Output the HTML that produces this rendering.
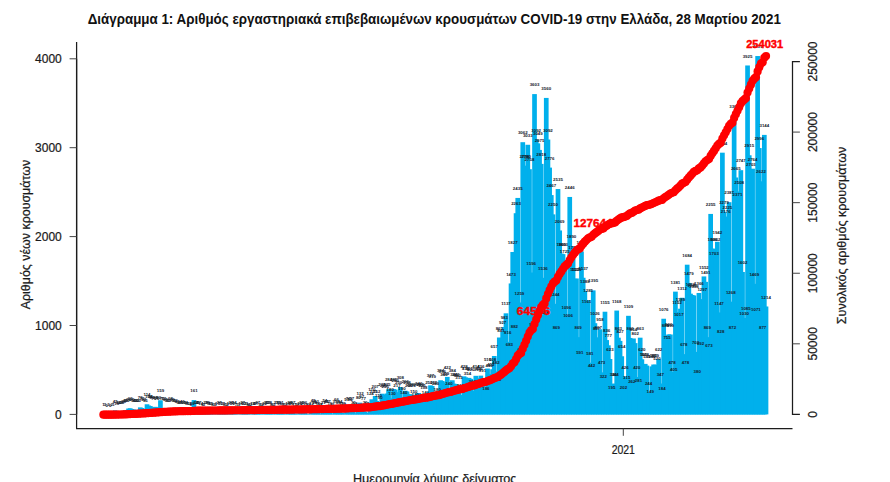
<!DOCTYPE html>
<html lang="el"><head><meta charset="utf-8"><title>COVID-19</title>
<style>
html,body{margin:0;padding:0;background:#fff;}
body{width:890px;height:482px;overflow:hidden;font-family:"Liberation Sans",sans-serif;}
svg{display:block;font-family:"Liberation Sans",sans-serif;}
.b rect{fill:#00b0ec;}
.l text{font-size:4.4px;font-weight:bold;fill:#15202b;text-anchor:middle;}
.r circle{fill:#ff0000;}
.ax{stroke:#1c1c1c;stroke-width:1.25;fill:none;}
.tk{stroke:#444;stroke-width:1;fill:none;}
.t{font-size:12px;fill:#1a1a1a;stroke:#1a1a1a;stroke-width:0.22;}
.rl{font-size:10.8px;font-weight:bold;fill:#ff0000;stroke:#ff0000;stroke-width:0.4;text-anchor:middle;}
</style></head><body>
<svg width="890" height="482" viewBox="0 0 890 482">
<rect x="0" y="0" width="890" height="482" fill="#ffffff"/>
<text x="87.7" y="23.8" font-size="14.5" font-weight="bold" fill="#111" textLength="693.2" lengthAdjust="spacingAndGlyphs">Διάγραμμα 1: Αριθμός εργαστηριακά επιβεβαιωμένων κρουσμάτων COVID-19 στην Ελλάδα, 28 Μαρτίου 2021</text>
<g class="b">
<rect x="101.06" y="414.31" width="4.69" height="0.09"/><rect x="102.73" y="414.13" width="4.69" height="0.27"/><rect x="106.09" y="414.13" width="4.69" height="0.27"/><rect x="109.44" y="414.22" width="4.69" height="0.18"/><rect x="111.12" y="414.31" width="4.69" height="0.09"/><rect x="112.8" y="410.4" width="4.69" height="4"/><rect x="114.48" y="412.8" width="4.69" height="1.6"/><rect x="116.15" y="412.27" width="4.69" height="2.13"/><rect x="117.83" y="411.47" width="4.69" height="2.93"/><rect x="119.51" y="411.91" width="4.69" height="2.49"/><rect x="121.19" y="411.02" width="4.69" height="3.38"/><rect x="122.86" y="410.31" width="4.69" height="4.09"/><rect x="124.54" y="409.95" width="4.69" height="4.45"/><rect x="126.22" y="408.53" width="4.69" height="5.87"/><rect x="127.9" y="408.27" width="4.69" height="6.13"/><rect x="129.57" y="409.07" width="4.69" height="5.33"/><rect x="131.25" y="409.51" width="4.69" height="4.89"/><rect x="132.93" y="410.13" width="4.69" height="4.27"/><rect x="134.6" y="409.78" width="4.69" height="4.62"/><rect x="136.28" y="409.95" width="4.69" height="4.45"/><rect x="137.96" y="407.38" width="4.69" height="7.02"/><rect x="139.64" y="408" width="4.69" height="6.4"/><rect x="141.31" y="408.89" width="4.69" height="5.51"/><rect x="142.99" y="409.51" width="4.69" height="4.89"/><rect x="144.67" y="404.27" width="4.69" height="10.13"/><rect x="146.35" y="405.51" width="4.69" height="8.89"/><rect x="148.03" y="406.04" width="4.69" height="8.36"/><rect x="149.7" y="407.29" width="4.69" height="7.11"/><rect x="151.38" y="407.73" width="4.69" height="6.67"/><rect x="153.06" y="406.84" width="4.69" height="7.56"/><rect x="154.74" y="408.18" width="4.69" height="6.22"/><rect x="156.41" y="407.29" width="4.69" height="7.11"/><rect x="158.09" y="400.26" width="4.69" height="14.14"/><rect x="159.77" y="408.18" width="4.69" height="6.22"/><rect x="161.45" y="408" width="4.69" height="6.4"/><rect x="163.12" y="408.62" width="4.69" height="5.78"/><rect x="164.8" y="409.51" width="4.69" height="4.89"/><rect x="166.48" y="409.95" width="4.69" height="4.45"/><rect x="168.16" y="408.35" width="4.69" height="6.05"/><rect x="169.83" y="409.07" width="4.69" height="5.33"/><rect x="171.51" y="409.51" width="4.69" height="4.89"/><rect x="173.19" y="409.95" width="4.69" height="4.45"/><rect x="174.87" y="410.67" width="4.69" height="3.73"/><rect x="176.54" y="411.73" width="4.69" height="2.67"/><rect x="178.22" y="412.18" width="4.69" height="2.22"/><rect x="179.9" y="410.84" width="4.69" height="3.56"/><rect x="181.58" y="412.18" width="4.69" height="2.22"/><rect x="183.25" y="412.27" width="4.69" height="2.13"/><rect x="184.93" y="413.07" width="4.69" height="1.33"/><rect x="186.61" y="413.24" width="4.69" height="1.16"/><rect x="188.28" y="413.6" width="4.69" height="0.8"/><rect x="189.96" y="412.62" width="4.69" height="1.78"/><rect x="191.64" y="400.09" width="4.69" height="14.31"/><rect x="193.32" y="412.27" width="4.69" height="2.13"/><rect x="195" y="412.18" width="4.69" height="2.22"/><rect x="196.67" y="412" width="4.69" height="2.4"/><rect x="198.35" y="413.16" width="4.69" height="1.24"/><rect x="200.03" y="413.87" width="4.69" height="0.53"/><rect x="201.71" y="414.13" width="4.69" height="0.27"/><rect x="203.38" y="411.91" width="4.69" height="2.49"/><rect x="205.06" y="411.82" width="4.69" height="2.58"/><rect x="206.74" y="412.98" width="4.69" height="1.42"/><rect x="208.41" y="413.07" width="4.69" height="1.33"/><rect x="210.09" y="413.69" width="4.69" height="0.71"/><rect x="211.77" y="414.13" width="4.69" height="0.27"/><rect x="213.45" y="414.31" width="4.69" height="0.09"/><rect x="215.12" y="412.89" width="4.69" height="1.51"/><rect x="216.8" y="412" width="4.69" height="2.4"/><rect x="218.48" y="413.24" width="4.69" height="1.16"/><rect x="220.16" y="412.89" width="4.69" height="1.51"/><rect x="221.84" y="413.69" width="4.69" height="0.71"/><rect x="223.51" y="413.96" width="4.69" height="0.44"/><rect x="225.19" y="414.22" width="4.69" height="0.18"/><rect x="226.87" y="412.89" width="4.69" height="1.51"/><rect x="228.54" y="411.82" width="4.69" height="2.58"/><rect x="230.22" y="413.33" width="4.69" height="1.07"/><rect x="231.9" y="412.27" width="4.69" height="2.13"/><rect x="233.58" y="413.78" width="4.69" height="0.62"/><rect x="235.25" y="414.13" width="4.69" height="0.27"/><rect x="236.93" y="414.31" width="4.69" height="0.09"/><rect x="238.61" y="412.98" width="4.69" height="1.42"/><rect x="240.29" y="412" width="4.69" height="2.4"/><rect x="241.97" y="413.24" width="4.69" height="1.16"/><rect x="243.64" y="412.53" width="4.69" height="1.87"/><rect x="245.32" y="413.69" width="4.69" height="0.71"/><rect x="247" y="414.04" width="4.69" height="0.36"/><rect x="248.68" y="414.22" width="4.69" height="0.18"/><rect x="250.35" y="413.16" width="4.69" height="1.24"/><rect x="252.03" y="412.89" width="4.69" height="1.51"/><rect x="253.71" y="412.89" width="4.69" height="1.51"/><rect x="255.39" y="412" width="4.69" height="2.4"/><rect x="257.06" y="413.6" width="4.69" height="0.8"/><rect x="258.74" y="413.96" width="4.69" height="0.44"/><rect x="260.42" y="414.22" width="4.69" height="0.18"/><rect x="262.09" y="412.44" width="4.69" height="1.96"/><rect x="263.77" y="412.18" width="4.69" height="2.22"/><rect x="265.45" y="412.36" width="4.69" height="2.04"/><rect x="267.13" y="411.91" width="4.69" height="2.49"/><rect x="268.8" y="413.69" width="4.69" height="0.71"/><rect x="270.48" y="413.87" width="4.69" height="0.53"/><rect x="272.16" y="414.22" width="4.69" height="0.18"/><rect x="273.84" y="412" width="4.69" height="2.4"/><rect x="275.51" y="411.56" width="4.69" height="2.84"/><rect x="277.19" y="412.8" width="4.69" height="1.6"/><rect x="278.87" y="411.64" width="4.69" height="2.76"/><rect x="280.55" y="413.69" width="4.69" height="0.71"/><rect x="282.22" y="413.96" width="4.69" height="0.44"/><rect x="283.9" y="414.22" width="4.69" height="0.18"/><rect x="285.58" y="412.8" width="4.69" height="1.6"/><rect x="287.26" y="411.91" width="4.69" height="2.49"/><rect x="288.93" y="413.07" width="4.69" height="1.33"/><rect x="290.61" y="412" width="4.69" height="2.4"/><rect x="292.29" y="413.42" width="4.69" height="0.98"/><rect x="293.97" y="413.96" width="4.69" height="0.44"/><rect x="295.64" y="414.22" width="4.69" height="0.18"/><rect x="297.32" y="412.62" width="4.69" height="1.78"/><rect x="299" y="411.64" width="4.69" height="2.76"/><rect x="300.68" y="412.53" width="4.69" height="1.87"/><rect x="302.36" y="412.09" width="4.69" height="2.31"/><rect x="304.03" y="413.6" width="4.69" height="0.8"/><rect x="305.71" y="413.87" width="4.69" height="0.53"/><rect x="307.39" y="414.22" width="4.69" height="0.18"/><rect x="309.06" y="412.44" width="4.69" height="1.96"/><rect x="310.74" y="410.13" width="4.69" height="4.27"/><rect x="312.42" y="412.27" width="4.69" height="2.13"/><rect x="314.1" y="410.58" width="4.69" height="3.82"/><rect x="315.77" y="412.98" width="4.69" height="1.42"/><rect x="317.45" y="413.42" width="4.69" height="0.98"/><rect x="319.13" y="414.04" width="4.69" height="0.36"/><rect x="320.81" y="411.64" width="4.69" height="2.76"/><rect x="322.49" y="409.6" width="4.69" height="4.8"/><rect x="324.16" y="410.4" width="4.69" height="4"/><rect x="325.84" y="411.11" width="4.69" height="3.29"/><rect x="327.52" y="412.71" width="4.69" height="1.69"/><rect x="329.19" y="413.6" width="4.69" height="0.8"/><rect x="330.87" y="414.13" width="4.69" height="0.27"/><rect x="332.55" y="411.29" width="4.69" height="3.11"/><rect x="334.23" y="408.53" width="4.69" height="5.87"/><rect x="335.9" y="411.47" width="4.69" height="2.93"/><rect x="337.58" y="410.49" width="4.69" height="3.91"/><rect x="339.26" y="412.71" width="4.69" height="1.69"/><rect x="340.94" y="413.24" width="4.69" height="1.16"/><rect x="342.62" y="414.13" width="4.69" height="0.27"/><rect x="344.29" y="409.33" width="4.69" height="5.07"/><rect x="345.97" y="407.64" width="4.69" height="6.76"/><rect x="347.65" y="408.71" width="4.69" height="5.69"/><rect x="349.32" y="407.55" width="4.69" height="6.85"/><rect x="351" y="411.73" width="4.69" height="2.67"/><rect x="352.68" y="413.33" width="4.69" height="1.07"/><rect x="354.36" y="413.96" width="4.69" height="0.44"/><rect x="356.03" y="407.29" width="4.69" height="7.11"/><rect x="357.71" y="402.67" width="4.69" height="11.73"/><rect x="359.39" y="405.78" width="4.69" height="8.62"/><rect x="361.07" y="407.55" width="4.69" height="6.85"/><rect x="362.75" y="411.73" width="4.69" height="2.67"/><rect x="364.42" y="412.89" width="4.69" height="1.51"/><rect x="366.1" y="413.87" width="4.69" height="0.53"/><rect x="367.78" y="403.38" width="4.69" height="11.02"/><rect x="369.45" y="399.29" width="4.69" height="15.11"/><rect x="371.13" y="400.98" width="4.69" height="13.42"/><rect x="372.81" y="396" width="4.69" height="18.4"/><rect x="374.49" y="400.89" width="4.69" height="13.51"/><rect x="376.16" y="404.62" width="4.69" height="9.78"/><rect x="377.84" y="406.4" width="4.69" height="8"/><rect x="379.52" y="393.69" width="4.69" height="20.71"/><rect x="381.2" y="394.4" width="4.69" height="20"/><rect x="382.88" y="396.18" width="4.69" height="18.22"/><rect x="384.55" y="393.51" width="4.69" height="20.89"/><rect x="386.23" y="389.15" width="4.69" height="25.25"/><rect x="387.91" y="398.4" width="4.69" height="16"/><rect x="389.58" y="402.84" width="4.69" height="11.56"/><rect x="391.26" y="389.06" width="4.69" height="25.34"/><rect x="392.94" y="389.51" width="4.69" height="24.89"/><rect x="394.62" y="395.11" width="4.69" height="19.29"/><rect x="396.29" y="392.17" width="4.69" height="22.23"/><rect x="397.97" y="387.02" width="4.69" height="27.38"/><rect x="399.65" y="397.51" width="4.69" height="16.89"/><rect x="401.33" y="401.95" width="4.69" height="12.45"/><rect x="403" y="390.75" width="4.69" height="23.65"/><rect x="404.68" y="391.46" width="4.69" height="22.94"/><rect x="406.36" y="394.84" width="4.69" height="19.56"/><rect x="408.04" y="394.13" width="4.69" height="20.27"/><rect x="409.72" y="395.29" width="4.69" height="19.11"/><rect x="411.39" y="401.06" width="4.69" height="13.34"/><rect x="413.07" y="403.73" width="4.69" height="10.67"/><rect x="414.75" y="393.69" width="4.69" height="20.71"/><rect x="416.42" y="393.06" width="4.69" height="21.34"/><rect x="418.1" y="393.95" width="4.69" height="20.45"/><rect x="419.78" y="394.4" width="4.69" height="20"/><rect x="421.46" y="396.8" width="4.69" height="17.6"/><rect x="423.13" y="401.95" width="4.69" height="12.45"/><rect x="424.81" y="404.62" width="4.69" height="9.78"/><rect x="426.49" y="392.17" width="4.69" height="22.23"/><rect x="428.17" y="385.33" width="4.69" height="29.07"/><rect x="429.85" y="386.04" width="4.69" height="28.36"/><rect x="431.52" y="391.73" width="4.69" height="22.67"/><rect x="433.2" y="393.06" width="4.69" height="21.34"/><rect x="434.88" y="398.4" width="4.69" height="16"/><rect x="436.55" y="401.87" width="4.69" height="12.53"/><rect x="438.23" y="380.26" width="4.69" height="34.14"/><rect x="439.91" y="380.97" width="4.69" height="33.43"/><rect x="441.59" y="384.17" width="4.69" height="30.23"/><rect x="443.26" y="382.48" width="4.69" height="31.92"/><rect x="444.94" y="376.88" width="4.69" height="37.52"/><rect x="446.62" y="393.06" width="4.69" height="21.34"/><rect x="448.3" y="399.29" width="4.69" height="15.11"/><rect x="449.98" y="380.26" width="4.69" height="34.14"/><rect x="451.65" y="383.64" width="4.69" height="30.76"/><rect x="453.33" y="384" width="4.69" height="30.4"/><rect x="455.01" y="385.06" width="4.69" height="29.34"/><rect x="456.68" y="386.4" width="4.69" height="28"/><rect x="458.36" y="395.02" width="4.69" height="19.38"/><rect x="460.04" y="400.18" width="4.69" height="14.22"/><rect x="461.72" y="376.35" width="4.69" height="38.05"/><rect x="463.39" y="377.42" width="4.69" height="36.98"/><rect x="465.07" y="382.93" width="4.69" height="31.47"/><rect x="466.75" y="377.86" width="4.69" height="36.54"/><rect x="468.43" y="378.84" width="4.69" height="35.56"/><rect x="470.11" y="390.66" width="4.69" height="23.74"/><rect x="471.78" y="394.04" width="4.69" height="20.36"/><rect x="473.46" y="375.82" width="4.69" height="38.58"/><rect x="475.14" y="378.93" width="4.69" height="35.47"/><rect x="476.81" y="378.31" width="4.69" height="36.09"/><rect x="478.49" y="375.64" width="4.69" height="38.76"/><rect x="480.17" y="379.64" width="4.69" height="34.76"/><rect x="481.85" y="389.51" width="4.69" height="24.89"/><rect x="483.52" y="397.86" width="4.69" height="16.54"/><rect x="485.2" y="368.53" width="4.69" height="45.87"/><rect x="486.88" y="375.28" width="4.69" height="39.12"/><rect x="488.56" y="374.13" width="4.69" height="40.27"/><rect x="490.24" y="369.24" width="4.69" height="45.16"/><rect x="491.91" y="355.99" width="4.69" height="58.41"/><rect x="493.59" y="371.55" width="4.69" height="42.85"/><rect x="495.27" y="388.62" width="4.69" height="25.78"/><rect x="496.94" y="337.5" width="4.69" height="76.9"/><rect x="498.62" y="339.64" width="4.69" height="74.76"/><rect x="500.3" y="331.99" width="4.69" height="82.41"/><rect x="501.98" y="327.01" width="4.69" height="87.39"/><rect x="503.65" y="313.32" width="4.69" height="101.08"/><rect x="505.33" y="341.86" width="4.69" height="72.54"/><rect x="507.01" y="353.68" width="4.69" height="60.72"/><rect x="508.69" y="283.45" width="4.69" height="130.95"/><rect x="510.37" y="251.98" width="4.69" height="162.42"/><rect x="512.04" y="335.99" width="4.69" height="78.41"/><rect x="513.72" y="213.22" width="4.69" height="201.18"/><rect x="515.4" y="197.93" width="4.69" height="216.47"/><rect x="517.07" y="302.47" width="4.69" height="111.93"/><rect x="518.75" y="359.28" width="4.69" height="55.12"/><rect x="520.43" y="142.19" width="4.69" height="272.21"/><rect x="522.11" y="165.66" width="4.69" height="248.74"/><rect x="523.78" y="166.37" width="4.69" height="248.03"/><rect x="525.46" y="144.77" width="4.69" height="269.63"/><rect x="527.14" y="169.21" width="4.69" height="245.19"/><rect x="528.82" y="272.52" width="4.69" height="141.88"/><rect x="530.5" y="334.39" width="4.69" height="80.01"/><rect x="532.17" y="94.09" width="4.69" height="320.31"/><rect x="533.85" y="139.52" width="4.69" height="274.88"/><rect x="535.53" y="143.34" width="4.69" height="271.06"/><rect x="537.2" y="149.92" width="4.69" height="264.48"/><rect x="538.88" y="163.88" width="4.69" height="250.52"/><rect x="540.56" y="277.85" width="4.69" height="136.55"/><rect x="542.24" y="321.94" width="4.69" height="92.46"/><rect x="543.91" y="97.92" width="4.69" height="316.48"/><rect x="545.59" y="139.52" width="4.69" height="274.88"/><rect x="547.27" y="167.61" width="4.69" height="246.79"/><rect x="548.95" y="195.08" width="4.69" height="219.32"/><rect x="550.62" y="214.37" width="4.69" height="200.03"/><rect x="552.3" y="303.81" width="4.69" height="110.59"/><rect x="553.98" y="337.15" width="4.69" height="77.25"/><rect x="555.66" y="189.04" width="4.69" height="225.36"/><rect x="557.33" y="230.47" width="4.69" height="183.93"/><rect x="559.01" y="253.58" width="4.69" height="160.82"/><rect x="560.69" y="254.11" width="4.69" height="160.29"/><rect x="562.37" y="261.05" width="4.69" height="153.35"/><rect x="564.04" y="316.97" width="4.69" height="97.43"/><rect x="565.72" y="324.97" width="4.69" height="89.43"/><rect x="567.4" y="196.95" width="4.69" height="217.45"/><rect x="569.08" y="246.38" width="4.69" height="168.02"/><rect x="570.75" y="256.87" width="4.69" height="157.53"/><rect x="572.43" y="278.83" width="4.69" height="135.57"/><rect x="574.11" y="278.47" width="4.69" height="135.93"/><rect x="575.79" y="337.15" width="4.69" height="77.25"/><rect x="577.47" y="361.86" width="4.69" height="52.54"/><rect x="579.14" y="251.45" width="4.69" height="162.95"/><rect x="580.82" y="277.76" width="4.69" height="136.64"/><rect x="582.5" y="291.01" width="4.69" height="123.39"/><rect x="584.17" y="311.19" width="4.69" height="103.21"/><rect x="585.85" y="300.16" width="4.69" height="114.24"/><rect x="587.53" y="362.75" width="4.69" height="51.65"/><rect x="589.21" y="375.11" width="4.69" height="39.29"/><rect x="590.88" y="290.38" width="4.69" height="124.02"/><rect x="592.56" y="323.19" width="4.69" height="91.21"/><rect x="594.24" y="338.21" width="4.69" height="76.19"/><rect x="595.92" y="337.32" width="4.69" height="77.08"/><rect x="597.6" y="329.23" width="4.69" height="85.17"/><rect x="599.27" y="372.35" width="4.69" height="42.05"/><rect x="600.95" y="385.77" width="4.69" height="28.63"/><rect x="602.63" y="311.72" width="4.69" height="102.68"/><rect x="604.3" y="340.08" width="4.69" height="74.32"/><rect x="605.98" y="345.32" width="4.69" height="69.08"/><rect x="607.66" y="359.02" width="4.69" height="55.38"/><rect x="609.34" y="397.06" width="4.69" height="17.34"/><rect x="611.01" y="383.64" width="4.69" height="30.76"/><rect x="612.69" y="383.82" width="4.69" height="30.58"/><rect x="614.37" y="310.56" width="4.69" height="103.84"/><rect x="616.05" y="337.68" width="4.69" height="76.72"/><rect x="617.72" y="340.88" width="4.69" height="73.52"/><rect x="619.4" y="356.26" width="4.69" height="58.14"/><rect x="621.08" y="396.44" width="4.69" height="17.96"/><rect x="622.76" y="376.53" width="4.69" height="37.87"/><rect x="624.43" y="386.4" width="4.69" height="28"/><rect x="626.11" y="315.81" width="4.69" height="98.59"/><rect x="627.79" y="337.95" width="4.69" height="76.45"/><rect x="629.47" y="391.11" width="4.69" height="23.29"/><rect x="631.14" y="338.48" width="4.69" height="75.92"/><rect x="632.82" y="343.1" width="4.69" height="71.3"/><rect x="634.5" y="377.06" width="4.69" height="37.34"/><rect x="636.18" y="389.42" width="4.69" height="24.98"/><rect x="637.85" y="337.68" width="4.69" height="76.72"/><rect x="639.53" y="359.28" width="4.69" height="55.12"/><rect x="641.21" y="364.17" width="4.69" height="50.23"/><rect x="642.89" y="363.9" width="4.69" height="50.5"/><rect x="644.56" y="365.59" width="4.69" height="48.81"/><rect x="646.24" y="392.71" width="4.69" height="21.69"/><rect x="647.92" y="401.15" width="4.69" height="13.25"/><rect x="649.6" y="366.39" width="4.69" height="48.01"/><rect x="651.27" y="364.53" width="4.69" height="49.87"/><rect x="652.95" y="364.7" width="4.69" height="49.7"/><rect x="654.63" y="368.17" width="4.69" height="46.23"/><rect x="656.31" y="359.1" width="4.69" height="55.3"/><rect x="657.98" y="383.55" width="4.69" height="30.85"/><rect x="659.66" y="398.04" width="4.69" height="16.36"/><rect x="661.34" y="318.74" width="4.69" height="95.66"/><rect x="663.02" y="335.37" width="4.69" height="79.03"/><rect x="664.69" y="347.28" width="4.69" height="67.12"/><rect x="666.37" y="334.39" width="4.69" height="80.01"/><rect x="668.05" y="334.48" width="4.69" height="79.92"/><rect x="669.73" y="371.91" width="4.69" height="42.49"/><rect x="671.4" y="378.4" width="4.69" height="36"/><rect x="673.08" y="291.63" width="4.69" height="122.77"/><rect x="674.76" y="311.99" width="4.69" height="102.41"/><rect x="676.44" y="323.99" width="4.69" height="90.41"/><rect x="678.11" y="308.7" width="4.69" height="105.7"/><rect x="679.79" y="297.76" width="4.69" height="116.64"/><rect x="681.47" y="354.13" width="4.69" height="60.27"/><rect x="683.15" y="371.91" width="4.69" height="42.49"/><rect x="684.82" y="264.69" width="4.69" height="149.71"/><rect x="686.5" y="282.92" width="4.69" height="131.48"/><rect x="688.18" y="293.67" width="4.69" height="120.73"/><rect x="689.86" y="295.01" width="4.69" height="119.39"/><rect x="691.53" y="295.45" width="4.69" height="118.95"/><rect x="693.21" y="351.9" width="4.69" height="62.5"/><rect x="694.89" y="380.62" width="4.69" height="33.78"/><rect x="696.57" y="292.96" width="4.69" height="121.44"/><rect x="698.24" y="352.88" width="4.69" height="61.52"/><rect x="699.92" y="299.1" width="4.69" height="115.3"/><rect x="701.6" y="276.43" width="4.69" height="137.97"/><rect x="703.28" y="281.85" width="4.69" height="132.55"/><rect x="704.95" y="337.15" width="4.69" height="77.25"/><rect x="706.63" y="354.57" width="4.69" height="59.83"/><rect x="708.31" y="213.93" width="4.69" height="200.47"/><rect x="709.99" y="248.51" width="4.69" height="165.89"/><rect x="711.66" y="263" width="4.69" height="151.4"/><rect x="713.34" y="248.87" width="4.69" height="165.53"/><rect x="715.02" y="241.76" width="4.69" height="172.64"/><rect x="716.7" y="312.43" width="4.69" height="101.97"/><rect x="718.38" y="340.79" width="4.69" height="73.61"/><rect x="720.05" y="152.68" width="4.69" height="261.72"/><rect x="721.73" y="211.8" width="4.69" height="202.6"/><rect x="723.41" y="220.95" width="4.69" height="193.45"/><rect x="725.08" y="216.6" width="4.69" height="197.8"/><rect x="726.76" y="202.2" width="4.69" height="212.2"/><rect x="728.44" y="301.67" width="4.69" height="112.73"/><rect x="730.12" y="336.88" width="4.69" height="77.52"/><rect x="731.79" y="115.7" width="4.69" height="298.7"/><rect x="733.47" y="177.48" width="4.69" height="236.92"/><rect x="735.15" y="203.62" width="4.69" height="210.78"/><rect x="736.83" y="191.44" width="4.69" height="222.96"/><rect x="738.5" y="170.19" width="4.69" height="244.21"/><rect x="740.18" y="271.98" width="4.69" height="142.42"/><rect x="741.86" y="322.83" width="4.69" height="91.57"/><rect x="743.54" y="317.94" width="4.69" height="96.46"/><rect x="745.21" y="65.47" width="4.69" height="348.93"/><rect x="746.89" y="155.26" width="4.69" height="259.14"/><rect x="748.57" y="174.1" width="4.69" height="240.3"/><rect x="750.25" y="168.68" width="4.69" height="245.72"/><rect x="751.92" y="283.81" width="4.69" height="130.59"/><rect x="753.6" y="319.19" width="4.69" height="95.21"/><rect x="755.28" y="56.04" width="4.69" height="358.36"/><rect x="756.96" y="148.06" width="4.69" height="266.34"/><rect x="758.63" y="181.3" width="4.69" height="233.1"/><rect x="760.31" y="336.43" width="4.69" height="77.97"/><rect x="761.99" y="134.9" width="4.69" height="279.5"/><rect x="763.67" y="306.48" width="4.69" height="107.92"/>
</g>
<g class="l">
<text x="103.4" y="406.41">1</text><text x="105.08" y="406.23">3</text><text x="106.76" y="406.5">0</text><text x="108.43" y="406.23">3</text><text x="110.11" y="406.5">0</text><text x="111.79" y="406.32">2</text><text x="113.47" y="406.41">1</text><text x="115.14" y="402.5">45</text><text x="116.82" y="404.9">18</text><text x="118.5" y="404.37">24</text><text x="120.18" y="403.57">33</text><text x="121.85" y="404.01">28</text><text x="123.53" y="403.12">38</text><text x="125.21" y="402.41">46</text><text x="126.89" y="402.06">50</text><text x="128.56" y="400.63">66</text><text x="130.24" y="400.37">69</text><text x="131.92" y="401.17">60</text><text x="133.59" y="401.61">55</text><text x="135.27" y="402.23">48</text><text x="136.95" y="401.88">52</text><text x="138.63" y="402.06">50</text><text x="140.31" y="399.48">79</text><text x="141.98" y="400.1">72</text><text x="143.66" y="400.99">62</text><text x="145.34" y="401.61">55</text><text x="147.02" y="396.37">114</text><text x="148.69" y="397.61">100</text><text x="150.37" y="398.14">94</text><text x="152.05" y="399.39">80</text><text x="153.73" y="399.83">75</text><text x="155.4" y="398.94">85</text><text x="157.08" y="400.28">70</text><text x="158.76" y="399.39">80</text><text x="160.44" y="392.36">159</text><text x="162.11" y="400.28">70</text><text x="163.79" y="400.1">72</text><text x="165.47" y="400.72">65</text><text x="167.15" y="401.61">55</text><text x="168.82" y="402.06">50</text><text x="170.5" y="400.45">68</text><text x="172.18" y="401.17">60</text><text x="173.86" y="401.61">55</text><text x="175.53" y="402.06">50</text><text x="177.21" y="402.77">42</text><text x="178.89" y="403.83">30</text><text x="180.56" y="404.28">25</text><text x="182.24" y="402.94">40</text><text x="183.92" y="404.28">25</text><text x="185.6" y="404.37">24</text><text x="187.28" y="405.17">15</text><text x="188.95" y="405.34">13</text><text x="190.63" y="405.7">9</text><text x="192.31" y="404.72">20</text><text x="193.99" y="392.19">161</text><text x="195.66" y="404.37">24</text><text x="197.34" y="404.28">25</text><text x="199.02" y="404.1">27</text><text x="200.69" y="405.26">14</text><text x="202.37" y="405.97">6</text><text x="204.05" y="406.23">3</text><text x="205.73" y="404.01">28</text><text x="207.41" y="403.92">29</text><text x="209.08" y="405.08">16</text><text x="210.76" y="405.17">15</text><text x="212.44" y="405.79">8</text><text x="214.12" y="406.23">3</text><text x="215.79" y="406.41">1</text><text x="217.47" y="404.99">17</text><text x="219.15" y="404.1">27</text><text x="220.82" y="405.34">13</text><text x="222.5" y="404.99">17</text><text x="224.18" y="405.79">8</text><text x="225.86" y="406.06">5</text><text x="227.54" y="406.32">2</text><text x="229.21" y="404.99">17</text><text x="230.89" y="403.92">29</text><text x="232.57" y="405.43">12</text><text x="234.25" y="404.37">24</text><text x="235.92" y="405.88">7</text><text x="237.6" y="406.23">3</text><text x="239.28" y="406.41">1</text><text x="240.96" y="405.08">16</text><text x="242.63" y="404.1">27</text><text x="244.31" y="405.34">13</text><text x="245.99" y="404.63">21</text><text x="247.66" y="405.79">8</text><text x="249.34" y="406.14">4</text><text x="251.02" y="406.32">2</text><text x="252.7" y="405.26">14</text><text x="254.38" y="404.99">17</text><text x="256.05" y="404.99">17</text><text x="257.73" y="404.1">27</text><text x="259.41" y="405.7">9</text><text x="261.09" y="406.06">5</text><text x="262.76" y="406.32">2</text><text x="264.44" y="404.54">22</text><text x="266.12" y="404.28">25</text><text x="267.8" y="404.46">23</text><text x="269.47" y="404.01">28</text><text x="271.15" y="405.79">8</text><text x="272.83" y="405.97">6</text><text x="274.5" y="406.32">2</text><text x="276.18" y="404.1">27</text><text x="277.86" y="403.66">32</text><text x="279.54" y="404.9">18</text><text x="281.22" y="403.74">31</text><text x="282.89" y="405.79">8</text><text x="284.57" y="406.06">5</text><text x="286.25" y="406.32">2</text><text x="287.93" y="404.9">18</text><text x="289.6" y="404.01">28</text><text x="291.28" y="405.17">15</text><text x="292.96" y="404.1">27</text><text x="294.63" y="405.52">11</text><text x="296.31" y="406.06">5</text><text x="297.99" y="406.32">2</text><text x="299.67" y="404.72">20</text><text x="301.35" y="403.74">31</text><text x="303.02" y="404.63">21</text><text x="304.7" y="404.19">26</text><text x="306.38" y="405.7">9</text><text x="308.06" y="405.97">6</text><text x="309.73" y="406.32">2</text><text x="311.41" y="404.54">22</text><text x="313.09" y="402.23">48</text><text x="314.76" y="404.37">24</text><text x="316.44" y="402.68">43</text><text x="318.12" y="405.08">16</text><text x="319.8" y="405.52">11</text><text x="321.48" y="406.14">4</text><text x="323.15" y="403.74">31</text><text x="324.83" y="401.7">54</text><text x="326.51" y="402.5">45</text><text x="328.19" y="403.21">37</text><text x="329.86" y="404.81">19</text><text x="331.54" y="405.7">9</text><text x="333.22" y="406.23">3</text><text x="334.89" y="403.39">35</text><text x="336.57" y="400.63">66</text><text x="338.25" y="403.57">33</text><text x="339.93" y="402.59">44</text><text x="341.61" y="404.81">19</text><text x="343.28" y="405.34">13</text><text x="344.96" y="406.23">3</text><text x="346.64" y="401.43">57</text><text x="348.31" y="399.74">76</text><text x="349.99" y="400.81">64</text><text x="351.67" y="399.65">77</text><text x="353.35" y="403.83">30</text><text x="355.02" y="405.43">12</text><text x="356.7" y="406.06">5</text><text x="358.38" y="399.39">80</text><text x="360.06" y="394.77">132</text><text x="361.74" y="397.88">97</text><text x="363.41" y="399.65">77</text><text x="365.09" y="403.83">30</text><text x="366.77" y="404.99">17</text><text x="368.45" y="405.97">6</text><text x="370.12" y="395.48">124</text><text x="371.8" y="391.39">170</text><text x="373.48" y="393.08">151</text><text x="375.15" y="388.1">207</text><text x="376.83" y="392.99">152</text><text x="378.51" y="396.72">110</text><text x="380.19" y="398.5">90</text><text x="381.87" y="385.79">233</text><text x="383.54" y="386.5">225</text><text x="385.22" y="388.28">205</text><text x="386.9" y="385.61">235</text><text x="388.58" y="381.25">284</text><text x="390.25" y="390.5">180</text><text x="391.93" y="394.94">130</text><text x="393.61" y="381.16">285</text><text x="395.28" y="381.61">280</text><text x="396.96" y="387.21">217</text><text x="398.64" y="384.27">250</text><text x="400.32" y="379.12">308</text><text x="402" y="389.61">190</text><text x="403.67" y="394.05">140</text><text x="405.35" y="382.85">266</text><text x="407.03" y="383.56">258</text><text x="408.71" y="386.94">220</text><text x="410.38" y="386.23">228</text><text x="412.06" y="387.39">215</text><text x="413.74" y="393.17">150</text><text x="415.41" y="395.83">120</text><text x="417.09" y="385.79">233</text><text x="418.77" y="385.16">240</text><text x="420.45" y="386.05">230</text><text x="422.12" y="386.5">225</text><text x="423.8" y="388.9">198</text><text x="425.48" y="394.05">140</text><text x="427.16" y="396.72">110</text><text x="428.84" y="384.27">250</text><text x="430.51" y="377.43">327</text><text x="432.19" y="378.14">319</text><text x="433.87" y="383.83">255</text><text x="435.54" y="385.16">240</text><text x="437.22" y="390.5">180</text><text x="438.9" y="393.97">141</text><text x="440.58" y="372.36">384</text><text x="442.25" y="373.07">376</text><text x="443.93" y="376.27">340</text><text x="445.61" y="374.58">359</text><text x="447.29" y="368.98">422</text><text x="448.97" y="385.16">240</text><text x="450.64" y="391.39">170</text><text x="452.32" y="372.36">384</text><text x="454" y="375.74">346</text><text x="455.67" y="376.1">342</text><text x="457.35" y="377.16">330</text><text x="459.03" y="378.5">315</text><text x="460.71" y="387.12">218</text><text x="462.38" y="392.28">160</text><text x="464.06" y="368.45">428</text><text x="465.74" y="369.52">416</text><text x="467.42" y="375.03">354</text><text x="469.1" y="369.96">411</text><text x="470.77" y="370.94">400</text><text x="472.45" y="382.76">267</text><text x="474.13" y="386.14">229</text><text x="475.8" y="367.92">434</text><text x="477.48" y="371.03">399</text><text x="479.16" y="370.41">406</text><text x="480.84" y="367.74">436</text><text x="482.51" y="371.74">391</text><text x="484.19" y="381.61">280</text><text x="485.87" y="389.96">186</text><text x="487.55" y="360.63">516</text><text x="489.23" y="367.38">440</text><text x="490.9" y="366.23">453</text><text x="492.58" y="361.34">508</text><text x="494.26" y="348.09">657</text><text x="495.94" y="363.65">482</text><text x="497.61" y="380.72">290</text><text x="499.29" y="329.6">865</text><text x="500.97" y="331.74">841</text><text x="502.64" y="324.09">927</text><text x="504.32" y="319.11">983</text><text x="506" y="305.42">1137</text><text x="507.68" y="333.96">816</text><text x="509.36" y="345.78">683</text><text x="511.03" y="275.55">1473</text><text x="512.71" y="244.08">1827</text><text x="514.39" y="328.09">882</text><text x="516.07" y="205.32">2263</text><text x="517.74" y="190.03">2435</text><text x="519.42" y="294.57">1259</text><text x="521.1" y="351.38">620</text><text x="522.77" y="134.29">3062</text><text x="524.45" y="157.76">2798</text><text x="526.13" y="158.47">2790</text><text x="527.81" y="136.87">3033</text><text x="529.49" y="161.31">2758</text><text x="531.16" y="264.62">1596</text><text x="532.84" y="326.49">900</text><text x="534.52" y="86.19">3603</text><text x="536.2" y="131.62">3092</text><text x="537.87" y="135.44">3049</text><text x="539.55" y="142.02">2975</text><text x="541.23" y="155.98">2818</text><text x="542.9" y="269.95">1536</text><text x="544.58" y="314.04">1040</text><text x="546.26" y="90.02">3560</text><text x="547.94" y="131.62">3092</text><text x="549.62" y="159.71">2776</text><text x="551.29" y="187.18">2467</text><text x="552.97" y="206.47">2250</text><text x="554.65" y="295.91">1244</text><text x="556.33" y="329.25">869</text><text x="558" y="181.14">2535</text><text x="559.68" y="222.57">2069</text><text x="561.36" y="245.68">1809</text><text x="563.03" y="246.21">1803</text><text x="564.71" y="253.15">1725</text><text x="566.39" y="309.07">1096</text><text x="568.07" y="317.07">1006</text><text x="569.75" y="189.05">2446</text><text x="571.42" y="238.48">1890</text><text x="573.1" y="248.97">1772</text><text x="574.78" y="270.93">1525</text><text x="576.46" y="270.57">1529</text><text x="578.13" y="329.25">869</text><text x="579.81" y="353.96">591</text><text x="581.49" y="243.55">1833</text><text x="583.16" y="269.86">1537</text><text x="584.84" y="283.11">1388</text><text x="586.52" y="303.29">1161</text><text x="588.2" y="292.26">1285</text><text x="589.88" y="354.85">581</text><text x="591.55" y="367.21">442</text><text x="593.23" y="282.48">1395</text><text x="594.91" y="315.29">1026</text><text x="596.59" y="330.31">857</text><text x="598.26" y="329.42">867</text><text x="599.94" y="321.33">958</text><text x="601.62" y="364.45">473</text><text x="603.29" y="377.87">322</text><text x="604.97" y="303.82">1155</text><text x="606.65" y="332.18">836</text><text x="608.33" y="337.42">777</text><text x="610" y="351.12">623</text><text x="611.68" y="389.16">195</text><text x="613.36" y="375.74">346</text><text x="615.04" y="375.92">344</text><text x="616.71" y="302.66">1168</text><text x="618.39" y="329.78">863</text><text x="620.07" y="332.98">827</text><text x="621.75" y="348.36">654</text><text x="623.42" y="388.54">202</text><text x="625.1" y="368.63">426</text><text x="626.78" y="378.5">315</text><text x="628.46" y="307.91">1109</text><text x="630.13" y="330.05">860</text><text x="631.81" y="383.21">262</text><text x="633.49" y="330.58">854</text><text x="635.17" y="335.2">802</text><text x="636.85" y="369.16">420</text><text x="638.52" y="381.52">281</text><text x="640.2" y="329.78">863</text><text x="641.88" y="351.38">620</text><text x="643.55" y="356.27">565</text><text x="645.23" y="356">568</text><text x="646.91" y="357.69">549</text><text x="648.59" y="384.81">244</text><text x="650.26" y="393.25">149</text><text x="651.94" y="358.49">540</text><text x="653.62" y="356.63">561</text><text x="655.3" y="356.8">559</text><text x="656.98" y="360.27">520</text><text x="658.65" y="351.2">622</text><text x="660.33" y="375.65">347</text><text x="662.01" y="390.14">184</text><text x="663.68" y="310.84">1076</text><text x="665.36" y="327.47">889</text><text x="667.04" y="339.38">755</text><text x="668.72" y="326.49">900</text><text x="670.39" y="326.58">899</text><text x="672.07" y="364.01">478</text><text x="673.75" y="370.5">405</text><text x="675.43" y="283.73">1381</text><text x="677.11" y="304.09">1152</text><text x="678.78" y="316.09">1017</text><text x="680.46" y="300.8">1189</text><text x="682.14" y="289.86">1312</text><text x="683.81" y="346.23">678</text><text x="685.49" y="364.01">478</text><text x="687.17" y="256.79">1684</text><text x="688.85" y="275.02">1479</text><text x="690.52" y="285.77">1358</text><text x="692.2" y="287.11">1343</text><text x="693.88" y="287.55">1338</text><text x="695.56" y="344">703</text><text x="697.24" y="372.72">380</text><text x="698.91" y="285.06">1366</text><text x="700.59" y="344.98">692</text><text x="702.27" y="291.2">1297</text><text x="703.94" y="268.53">1552</text><text x="705.62" y="273.95">1491</text><text x="707.3" y="329.25">869</text><text x="708.98" y="346.67">673</text><text x="710.65" y="206.03">2255</text><text x="712.33" y="240.61">1866</text><text x="714.01" y="255.1">1703</text><text x="715.69" y="240.97">1862</text><text x="717.37" y="233.86">1942</text><text x="719.04" y="304.53">1147</text><text x="720.72" y="332.89">828</text><text x="722.4" y="144.78">2944</text><text x="724.07" y="203.9">2279</text><text x="725.75" y="213.05">2176</text><text x="727.43" y="208.7">2225</text><text x="729.11" y="194.3">2387</text><text x="730.78" y="293.77">1268</text><text x="732.46" y="328.98">872</text><text x="734.14" y="107.8">3360</text><text x="735.82" y="169.58">2665</text><text x="737.5" y="195.72">2371</text><text x="739.17" y="183.54">2508</text><text x="740.85" y="162.29">2747</text><text x="742.53" y="264.08">1602</text><text x="744.2" y="314.93">1030</text><text x="745.88" y="310.04">1085</text><text x="747.56" y="57.57">3925</text><text x="749.24" y="147.36">2915</text><text x="750.91" y="166.2">2703</text><text x="752.59" y="160.78">2764</text><text x="754.27" y="275.91">1469</text><text x="755.95" y="311.29">1071</text><text x="757.62" y="48.14">4031</text><text x="759.3" y="140.16">2996</text><text x="760.98" y="173.4">2622</text><text x="762.66" y="328.53">877</text><text x="764.33" y="127">3144</text><text x="766.01" y="298.58">1214</text>
</g>
<g class="r">
<circle cx="103.4" cy="414.7" r="4.1"/><circle cx="105.08" cy="414.69" r="4.1"/><circle cx="106.76" cy="414.69" r="4.1"/><circle cx="108.43" cy="414.69" r="4.1"/><circle cx="110.11" cy="414.69" r="4.1"/><circle cx="111.79" cy="414.69" r="4.1"/><circle cx="113.47" cy="414.69" r="4.1"/><circle cx="115.14" cy="414.62" r="4.1"/><circle cx="116.82" cy="414.6" r="4.1"/><circle cx="118.5" cy="414.56" r="4.1"/><circle cx="120.18" cy="414.52" r="4.1"/><circle cx="121.85" cy="414.48" r="4.1"/><circle cx="123.53" cy="414.42" r="4.1"/><circle cx="125.21" cy="414.36" r="4.1"/><circle cx="126.89" cy="414.29" r="4.1"/><circle cx="128.56" cy="414.19" r="4.1"/><circle cx="130.24" cy="414.1" r="4.1"/><circle cx="131.92" cy="414.01" r="4.1"/><circle cx="133.59" cy="413.93" r="4.1"/><circle cx="135.27" cy="413.87" r="4.1"/><circle cx="136.95" cy="413.79" r="4.1"/><circle cx="138.63" cy="413.72" r="4.1"/><circle cx="140.31" cy="413.61" r="4.1"/><circle cx="141.98" cy="413.51" r="4.1"/><circle cx="143.66" cy="413.42" r="4.1"/><circle cx="145.34" cy="413.34" r="4.1"/><circle cx="147.02" cy="413.18" r="4.1"/><circle cx="148.69" cy="413.04" r="4.1"/><circle cx="150.37" cy="412.91" r="4.1"/><circle cx="152.05" cy="412.79" r="4.1"/><circle cx="153.73" cy="412.69" r="4.1"/><circle cx="155.4" cy="412.57" r="4.1"/><circle cx="157.08" cy="412.47" r="4.1"/><circle cx="158.76" cy="412.36" r="4.1"/><circle cx="160.44" cy="412.13" r="4.1"/><circle cx="162.11" cy="412.03" r="4.1"/><circle cx="163.79" cy="411.93" r="4.1"/><circle cx="165.47" cy="411.84" r="4.1"/><circle cx="167.15" cy="411.76" r="4.1"/><circle cx="168.82" cy="411.69" r="4.1"/><circle cx="170.5" cy="411.59" r="4.1"/><circle cx="172.18" cy="411.51" r="4.1"/><circle cx="173.86" cy="411.43" r="4.1"/><circle cx="175.53" cy="411.36" r="4.1"/><circle cx="177.21" cy="411.3" r="4.1"/><circle cx="178.89" cy="411.26" r="4.1"/><circle cx="180.56" cy="411.22" r="4.1"/><circle cx="182.24" cy="411.17" r="4.1"/><circle cx="183.92" cy="411.13" r="4.1"/><circle cx="185.6" cy="411.1" r="4.1"/><circle cx="187.28" cy="411.08" r="4.1"/><circle cx="188.95" cy="411.06" r="4.1"/><circle cx="190.63" cy="411.04" r="4.1"/><circle cx="192.31" cy="411.02" r="4.1"/><circle cx="193.99" cy="410.79" r="4.1"/><circle cx="195.66" cy="410.76" r="4.1"/><circle cx="197.34" cy="410.72" r="4.1"/><circle cx="199.02" cy="410.68" r="4.1"/><circle cx="200.69" cy="410.66" r="4.1"/><circle cx="202.37" cy="410.65" r="4.1"/><circle cx="204.05" cy="410.65" r="4.1"/><circle cx="205.73" cy="410.61" r="4.1"/><circle cx="207.41" cy="410.57" r="4.1"/><circle cx="209.08" cy="410.55" r="4.1"/><circle cx="210.76" cy="410.52" r="4.1"/><circle cx="212.44" cy="410.51" r="4.1"/><circle cx="214.12" cy="410.51" r="4.1"/><circle cx="215.79" cy="410.51" r="4.1"/><circle cx="217.47" cy="410.48" r="4.1"/><circle cx="219.15" cy="410.45" r="4.1"/><circle cx="220.82" cy="410.43" r="4.1"/><circle cx="222.5" cy="410.4" r="4.1"/><circle cx="224.18" cy="410.39" r="4.1"/><circle cx="225.86" cy="410.38" r="4.1"/><circle cx="227.54" cy="410.38" r="4.1"/><circle cx="229.21" cy="410.36" r="4.1"/><circle cx="230.89" cy="410.32" r="4.1"/><circle cx="232.57" cy="410.3" r="4.1"/><circle cx="234.25" cy="410.27" r="4.1"/><circle cx="235.92" cy="410.26" r="4.1"/><circle cx="237.6" cy="410.25" r="4.1"/><circle cx="239.28" cy="410.25" r="4.1"/><circle cx="240.96" cy="410.23" r="4.1"/><circle cx="242.63" cy="410.19" r="4.1"/><circle cx="244.31" cy="410.17" r="4.1"/><circle cx="245.99" cy="410.14" r="4.1"/><circle cx="247.66" cy="410.13" r="4.1"/><circle cx="249.34" cy="410.12" r="4.1"/><circle cx="251.02" cy="410.12" r="4.1"/><circle cx="252.7" cy="410.1" r="4.1"/><circle cx="254.38" cy="410.08" r="4.1"/><circle cx="256.05" cy="410.05" r="4.1"/><circle cx="257.73" cy="410.02" r="4.1"/><circle cx="259.41" cy="410" r="4.1"/><circle cx="261.09" cy="410" r="4.1"/><circle cx="262.76" cy="409.99" r="4.1"/><circle cx="264.44" cy="409.96" r="4.1"/><circle cx="266.12" cy="409.93" r="4.1"/><circle cx="267.8" cy="409.89" r="4.1"/><circle cx="269.47" cy="409.85" r="4.1"/><circle cx="271.15" cy="409.84" r="4.1"/><circle cx="272.83" cy="409.83" r="4.1"/><circle cx="274.5" cy="409.83" r="4.1"/><circle cx="276.18" cy="409.79" r="4.1"/><circle cx="277.86" cy="409.75" r="4.1"/><circle cx="279.54" cy="409.72" r="4.1"/><circle cx="281.22" cy="409.68" r="4.1"/><circle cx="282.89" cy="409.67" r="4.1"/><circle cx="284.57" cy="409.66" r="4.1"/><circle cx="286.25" cy="409.66" r="4.1"/><circle cx="287.93" cy="409.63" r="4.1"/><circle cx="289.6" cy="409.59" r="4.1"/><circle cx="291.28" cy="409.57" r="4.1"/><circle cx="292.96" cy="409.53" r="4.1"/><circle cx="294.63" cy="409.52" r="4.1"/><circle cx="296.31" cy="409.51" r="4.1"/><circle cx="297.99" cy="409.51" r="4.1"/><circle cx="299.67" cy="409.48" r="4.1"/><circle cx="301.35" cy="409.44" r="4.1"/><circle cx="303.02" cy="409.41" r="4.1"/><circle cx="304.7" cy="409.37" r="4.1"/><circle cx="306.38" cy="409.36" r="4.1"/><circle cx="308.06" cy="409.35" r="4.1"/><circle cx="309.73" cy="409.35" r="4.1"/><circle cx="311.41" cy="409.31" r="4.1"/><circle cx="313.09" cy="409.25" r="4.1"/><circle cx="314.76" cy="409.21" r="4.1"/><circle cx="316.44" cy="409.15" r="4.1"/><circle cx="318.12" cy="409.13" r="4.1"/><circle cx="319.8" cy="409.11" r="4.1"/><circle cx="321.48" cy="409.11" r="4.1"/><circle cx="323.15" cy="409.06" r="4.1"/><circle cx="324.83" cy="408.99" r="4.1"/><circle cx="326.51" cy="408.92" r="4.1"/><circle cx="328.19" cy="408.87" r="4.1"/><circle cx="329.86" cy="408.84" r="4.1"/><circle cx="331.54" cy="408.83" r="4.1"/><circle cx="333.22" cy="408.83" r="4.1"/><circle cx="334.89" cy="408.78" r="4.1"/><circle cx="336.57" cy="408.69" r="4.1"/><circle cx="338.25" cy="408.64" r="4.1"/><circle cx="339.93" cy="408.58" r="4.1"/><circle cx="341.61" cy="408.55" r="4.1"/><circle cx="343.28" cy="408.53" r="4.1"/><circle cx="344.96" cy="408.53" r="4.1"/><circle cx="346.64" cy="408.45" r="4.1"/><circle cx="348.31" cy="408.34" r="4.1"/><circle cx="349.99" cy="408.25" r="4.1"/><circle cx="351.67" cy="408.14" r="4.1"/><circle cx="353.35" cy="408.1" r="4.1"/><circle cx="355.02" cy="408.08" r="4.1"/><circle cx="356.7" cy="408.07" r="4.1"/><circle cx="358.38" cy="407.96" r="4.1"/><circle cx="360.06" cy="407.77" r="4.1"/><circle cx="361.74" cy="407.64" r="4.1"/><circle cx="363.41" cy="407.53" r="4.1"/><circle cx="365.09" cy="407.48" r="4.1"/><circle cx="366.77" cy="407.46" r="4.1"/><circle cx="368.45" cy="407.45" r="4.1"/><circle cx="370.12" cy="407.28" r="4.1"/><circle cx="371.8" cy="407.04" r="4.1"/><circle cx="373.48" cy="406.82" r="4.1"/><circle cx="375.15" cy="406.53" r="4.1"/><circle cx="376.83" cy="406.32" r="4.1"/><circle cx="378.51" cy="406.16" r="4.1"/><circle cx="380.19" cy="406.03" r="4.1"/><circle cx="381.87" cy="405.7" r="4.1"/><circle cx="383.54" cy="405.39" r="4.1"/><circle cx="385.22" cy="405.1" r="4.1"/><circle cx="386.9" cy="404.76" r="4.1"/><circle cx="388.58" cy="404.36" r="4.1"/><circle cx="390.25" cy="404.11" r="4.1"/><circle cx="391.93" cy="403.92" r="4.1"/><circle cx="393.61" cy="403.52" r="4.1"/><circle cx="395.28" cy="403.12" r="4.1"/><circle cx="396.96" cy="402.82" r="4.1"/><circle cx="398.64" cy="402.46" r="4.1"/><circle cx="400.32" cy="402.03" r="4.1"/><circle cx="402" cy="401.76" r="4.1"/><circle cx="403.67" cy="401.56" r="4.1"/><circle cx="405.35" cy="401.19" r="4.1"/><circle cx="407.03" cy="400.82" r="4.1"/><circle cx="408.71" cy="400.51" r="4.1"/><circle cx="410.38" cy="400.19" r="4.1"/><circle cx="412.06" cy="399.88" r="4.1"/><circle cx="413.74" cy="399.67" r="4.1"/><circle cx="415.41" cy="399.5" r="4.1"/><circle cx="417.09" cy="399.17" r="4.1"/><circle cx="418.77" cy="398.83" r="4.1"/><circle cx="420.45" cy="398.51" r="4.1"/><circle cx="422.12" cy="398.19" r="4.1"/><circle cx="423.8" cy="397.91" r="4.1"/><circle cx="425.48" cy="397.71" r="4.1"/><circle cx="427.16" cy="397.56" r="4.1"/><circle cx="428.84" cy="397.2" r="4.1"/><circle cx="430.51" cy="396.74" r="4.1"/><circle cx="432.19" cy="396.29" r="4.1"/><circle cx="433.87" cy="395.93" r="4.1"/><circle cx="435.54" cy="395.59" r="4.1"/><circle cx="437.22" cy="395.33" r="4.1"/><circle cx="438.9" cy="395.14" r="4.1"/><circle cx="440.58" cy="394.59" r="4.1"/><circle cx="442.25" cy="394.06" r="4.1"/><circle cx="443.93" cy="393.58" r="4.1"/><circle cx="445.61" cy="393.07" r="4.1"/><circle cx="447.29" cy="392.48" r="4.1"/><circle cx="448.97" cy="392.14" r="4.1"/><circle cx="450.64" cy="391.9" r="4.1"/><circle cx="452.32" cy="391.35" r="4.1"/><circle cx="454" cy="390.86" r="4.1"/><circle cx="455.67" cy="390.38" r="4.1"/><circle cx="457.35" cy="389.91" r="4.1"/><circle cx="459.03" cy="389.47" r="4.1"/><circle cx="460.71" cy="389.16" r="4.1"/><circle cx="462.38" cy="388.93" r="4.1"/><circle cx="464.06" cy="388.33" r="4.1"/><circle cx="465.74" cy="387.74" r="4.1"/><circle cx="467.42" cy="387.24" r="4.1"/><circle cx="469.1" cy="386.66" r="4.1"/><circle cx="470.77" cy="386.09" r="4.1"/><circle cx="472.45" cy="385.72" r="4.1"/><circle cx="474.13" cy="385.39" r="4.1"/><circle cx="475.8" cy="384.78" r="4.1"/><circle cx="477.48" cy="384.21" r="4.1"/><circle cx="479.16" cy="383.64" r="4.1"/><circle cx="480.84" cy="383.02" r="4.1"/><circle cx="482.51" cy="382.47" r="4.1"/><circle cx="484.19" cy="382.07" r="4.1"/><circle cx="485.87" cy="381.81" r="4.1"/><circle cx="487.55" cy="381.08" r="4.1"/><circle cx="489.23" cy="380.46" r="4.1"/><circle cx="490.9" cy="379.82" r="4.1"/><circle cx="492.58" cy="379.1" r="4.1"/><circle cx="494.26" cy="378.17" r="4.1"/><circle cx="495.94" cy="377.49" r="4.1"/><circle cx="497.61" cy="377.08" r="4.1"/><circle cx="499.29" cy="375.86" r="4.1"/><circle cx="500.97" cy="374.67" r="4.1"/><circle cx="502.64" cy="373.36" r="4.1"/><circle cx="504.32" cy="371.97" r="4.1"/><circle cx="506" cy="370.36" r="4.1"/><circle cx="507.68" cy="369.21" r="4.1"/><circle cx="509.36" cy="368.24" r="4.1"/><circle cx="511.03" cy="366.16" r="4.1"/><circle cx="512.71" cy="363.58" r="4.1"/><circle cx="514.39" cy="362.33" r="4.1"/><circle cx="516.07" cy="359.13" r="4.1"/><circle cx="517.74" cy="355.69" r="4.1"/><circle cx="519.42" cy="353.91" r="4.1"/><circle cx="521.1" cy="353.03" r="4.1"/><circle cx="522.77" cy="348.7" r="4.1"/><circle cx="524.45" cy="344.74" r="4.1"/><circle cx="526.13" cy="340.8" r="4.1"/><circle cx="527.81" cy="336.51" r="4.1"/><circle cx="529.49" cy="332.61" r="4.1"/><circle cx="531.16" cy="330.35" r="4.1"/><circle cx="532.84" cy="329.08" r="4.1"/><circle cx="534.52" cy="323.99" r="4.1"/><circle cx="536.2" cy="319.61" r="4.1"/><circle cx="537.87" cy="315.3" r="4.1"/><circle cx="539.55" cy="311.1" r="4.1"/><circle cx="541.23" cy="307.11" r="4.1"/><circle cx="542.9" cy="304.94" r="4.1"/><circle cx="544.58" cy="303.47" r="4.1"/><circle cx="546.26" cy="298.44" r="4.1"/><circle cx="547.94" cy="294.06" r="4.1"/><circle cx="549.62" cy="290.14" r="4.1"/><circle cx="551.29" cy="286.65" r="4.1"/><circle cx="552.97" cy="283.47" r="4.1"/><circle cx="554.65" cy="281.71" r="4.1"/><circle cx="556.33" cy="280.48" r="4.1"/><circle cx="558" cy="276.9" r="4.1"/><circle cx="559.68" cy="273.97" r="4.1"/><circle cx="561.36" cy="271.41" r="4.1"/><circle cx="563.03" cy="268.87" r="4.1"/><circle cx="564.71" cy="266.43" r="4.1"/><circle cx="566.39" cy="264.88" r="4.1"/><circle cx="568.07" cy="263.45" r="4.1"/><circle cx="569.75" cy="260" r="4.1"/><circle cx="571.42" cy="257.32" r="4.1"/><circle cx="573.1" cy="254.82" r="4.1"/><circle cx="574.78" cy="252.66" r="4.1"/><circle cx="576.46" cy="250.5" r="4.1"/><circle cx="578.13" cy="249.27" r="4.1"/><circle cx="579.81" cy="248.44" r="4.1"/><circle cx="581.49" cy="245.84" r="4.1"/><circle cx="583.16" cy="243.67" r="4.1"/><circle cx="584.84" cy="241.71" r="4.1"/><circle cx="586.52" cy="240.07" r="4.1"/><circle cx="588.2" cy="238.25" r="4.1"/><circle cx="589.88" cy="237.43" r="4.1"/><circle cx="591.55" cy="236.8" r="4.1"/><circle cx="593.23" cy="234.83" r="4.1"/><circle cx="594.91" cy="233.38" r="4.1"/><circle cx="596.59" cy="232.17" r="4.1"/><circle cx="598.26" cy="230.94" r="4.1"/><circle cx="599.94" cy="229.59" r="4.1"/><circle cx="601.62" cy="228.92" r="4.1"/><circle cx="603.29" cy="228.46" r="4.1"/><circle cx="604.97" cy="226.83" r="4.1"/><circle cx="606.65" cy="225.65" r="4.1"/><circle cx="608.33" cy="224.55" r="4.1"/><circle cx="610" cy="223.67" r="4.1"/><circle cx="611.68" cy="223.39" r="4.1"/><circle cx="613.36" cy="222.9" r="4.1"/><circle cx="615.04" cy="222.42" r="4.1"/><circle cx="616.71" cy="220.77" r="4.1"/><circle cx="618.39" cy="219.55" r="4.1"/><circle cx="620.07" cy="218.38" r="4.1"/><circle cx="621.75" cy="217.45" r="4.1"/><circle cx="623.42" cy="217.17" r="4.1"/><circle cx="625.1" cy="216.56" r="4.1"/><circle cx="626.78" cy="216.12" r="4.1"/><circle cx="628.46" cy="214.55" r="4.1"/><circle cx="630.13" cy="213.33" r="4.1"/><circle cx="631.81" cy="212.96" r="4.1"/><circle cx="633.49" cy="211.76" r="4.1"/><circle cx="635.17" cy="210.62" r="4.1"/><circle cx="636.85" cy="210.03" r="4.1"/><circle cx="638.52" cy="209.63" r="4.1"/><circle cx="640.2" cy="208.41" r="4.1"/><circle cx="641.88" cy="207.53" r="4.1"/><circle cx="643.55" cy="206.74" r="4.1"/><circle cx="645.23" cy="205.93" r="4.1"/><circle cx="646.91" cy="205.16" r="4.1"/><circle cx="648.59" cy="204.81" r="4.1"/><circle cx="650.26" cy="204.6" r="4.1"/><circle cx="651.94" cy="203.84" r="4.1"/><circle cx="653.62" cy="203.04" r="4.1"/><circle cx="655.3" cy="202.25" r="4.1"/><circle cx="656.98" cy="201.52" r="4.1"/><circle cx="658.65" cy="200.64" r="4.1"/><circle cx="660.33" cy="200.15" r="4.1"/><circle cx="662.01" cy="199.89" r="4.1"/><circle cx="663.68" cy="198.37" r="4.1"/><circle cx="665.36" cy="197.11" r="4.1"/><circle cx="667.04" cy="196.04" r="4.1"/><circle cx="668.72" cy="194.77" r="4.1"/><circle cx="670.39" cy="193.5" r="4.1"/><circle cx="672.07" cy="192.82" r="4.1"/><circle cx="673.75" cy="192.25" r="4.1"/><circle cx="675.43" cy="190.3" r="4.1"/><circle cx="677.11" cy="188.67" r="4.1"/><circle cx="678.78" cy="187.23" r="4.1"/><circle cx="680.46" cy="185.55" r="4.1"/><circle cx="682.14" cy="183.69" r="4.1"/><circle cx="683.81" cy="182.74" r="4.1"/><circle cx="685.49" cy="182.06" r="4.1"/><circle cx="687.17" cy="179.68" r="4.1"/><circle cx="688.85" cy="177.59" r="4.1"/><circle cx="690.52" cy="175.67" r="4.1"/><circle cx="692.2" cy="173.77" r="4.1"/><circle cx="693.88" cy="171.88" r="4.1"/><circle cx="695.56" cy="170.88" r="4.1"/><circle cx="697.24" cy="170.35" r="4.1"/><circle cx="698.91" cy="168.41" r="4.1"/><circle cx="700.59" cy="167.44" r="4.1"/><circle cx="702.27" cy="165.6" r="4.1"/><circle cx="703.94" cy="163.41" r="4.1"/><circle cx="705.62" cy="161.3" r="4.1"/><circle cx="707.3" cy="160.07" r="4.1"/><circle cx="708.98" cy="159.12" r="4.1"/><circle cx="710.65" cy="155.93" r="4.1"/><circle cx="712.33" cy="153.29" r="4.1"/><circle cx="714.01" cy="150.88" r="4.1"/><circle cx="715.69" cy="148.25" r="4.1"/><circle cx="717.37" cy="145.51" r="4.1"/><circle cx="719.04" cy="143.88" r="4.1"/><circle cx="720.72" cy="142.71" r="4.1"/><circle cx="722.4" cy="138.55" r="4.1"/><circle cx="724.07" cy="135.33" r="4.1"/><circle cx="725.75" cy="132.25" r="4.1"/><circle cx="727.43" cy="129.11" r="4.1"/><circle cx="729.11" cy="125.73" r="4.1"/><circle cx="730.78" cy="123.94" r="4.1"/><circle cx="732.46" cy="122.7" r="4.1"/><circle cx="734.14" cy="117.95" r="4.1"/><circle cx="735.82" cy="114.19" r="4.1"/><circle cx="737.5" cy="110.83" r="4.1"/><circle cx="739.17" cy="107.29" r="4.1"/><circle cx="740.85" cy="103.4" r="4.1"/><circle cx="742.53" cy="101.14" r="4.1"/><circle cx="744.2" cy="99.68" r="4.1"/><circle cx="745.88" cy="98.15" r="4.1"/><circle cx="747.56" cy="92.6" r="4.1"/><circle cx="749.24" cy="88.48" r="4.1"/><circle cx="750.91" cy="84.65" r="4.1"/><circle cx="752.59" cy="80.75" r="4.1"/><circle cx="754.27" cy="78.67" r="4.1"/><circle cx="755.95" cy="77.15" r="4.1"/><circle cx="757.62" cy="71.46" r="4.1"/><circle cx="759.3" cy="67.22" r="4.1"/><circle cx="760.98" cy="63.51" r="4.1"/><circle cx="762.66" cy="62.27" r="4.1"/><circle cx="764.33" cy="57.83" r="4.1"/><circle cx="766.01" cy="56.11" r="4.1"/>
</g>
<text class="rl" x="533.5" y="315.1" textLength="33.3" lengthAdjust="spacingAndGlyphs">64596</text>
<text class="rl" x="593" y="227.0" textLength="39" lengthAdjust="spacingAndGlyphs">127644</text>
<text class="rl" x="764.7" y="48.0" textLength="37.1" lengthAdjust="spacingAndGlyphs">254031</text>
<path class="ax" d="M76.6 42V428.7H792.5"/>
<path class="ax" d="M76.6 58.8V414.4"/>
<path class="tk" d="M69.6 414.4H76.6"/><text class="t" x="61.8" y="418.7" text-anchor="end">0</text>
<path class="tk" d="M69.6 325.5H76.6"/><text class="t" x="61.8" y="329.8" text-anchor="end">1000</text>
<path class="tk" d="M69.6 236.6H76.6"/><text class="t" x="61.8" y="240.9" text-anchor="end">2000</text>
<path class="tk" d="M69.6 147.7H76.6"/><text class="t" x="61.8" y="152" text-anchor="end">3000</text>
<path class="tk" d="M69.6 58.8H76.6"/><text class="t" x="61.8" y="63.1" text-anchor="end">4000</text>
<path class="tk" d="M623.3 428.7V435.8"/>
<text class="t" x="623.3" y="453.7" text-anchor="middle" textLength="23.3" lengthAdjust="spacingAndGlyphs">2021</text>
<path class="ax" d="M799.9 61.5H792.5V414.4H799.9"/>
<text class="t" transform="translate(817 414.4) rotate(-90)" text-anchor="middle">0</text>
<path class="tk" d="M792.5 343.82H799.9"/><text class="t" transform="translate(817 343.82) rotate(-90)" text-anchor="middle">50000</text>
<path class="tk" d="M792.5 273.24H799.9"/><text class="t" transform="translate(817 273.24) rotate(-90)" text-anchor="middle">100000</text>
<path class="tk" d="M792.5 202.66H799.9"/><text class="t" transform="translate(817 202.66) rotate(-90)" text-anchor="middle">150000</text>
<path class="tk" d="M792.5 132.08H799.9"/><text class="t" transform="translate(817 132.08) rotate(-90)" text-anchor="middle">200000</text>
<text class="t" transform="translate(817 61.5) rotate(-90)" text-anchor="middle">250000</text>
<text class="t" transform="translate(29.9 234.6) rotate(-90)" text-anchor="middle" textLength="149.4" lengthAdjust="spacingAndGlyphs">Αριθμός νέων κρουσμάτων</text>
<text class="t" transform="translate(846 235.5) rotate(-90)" text-anchor="middle" textLength="177.4" lengthAdjust="spacingAndGlyphs">Συνολικός αριθμός κρουσμάτων</text>
<text class="t" x="434.7" y="482.7" text-anchor="middle" textLength="163.4" lengthAdjust="spacingAndGlyphs">Ημερομηνία λήψης δείγματος</text>
</svg>
</body></html>
